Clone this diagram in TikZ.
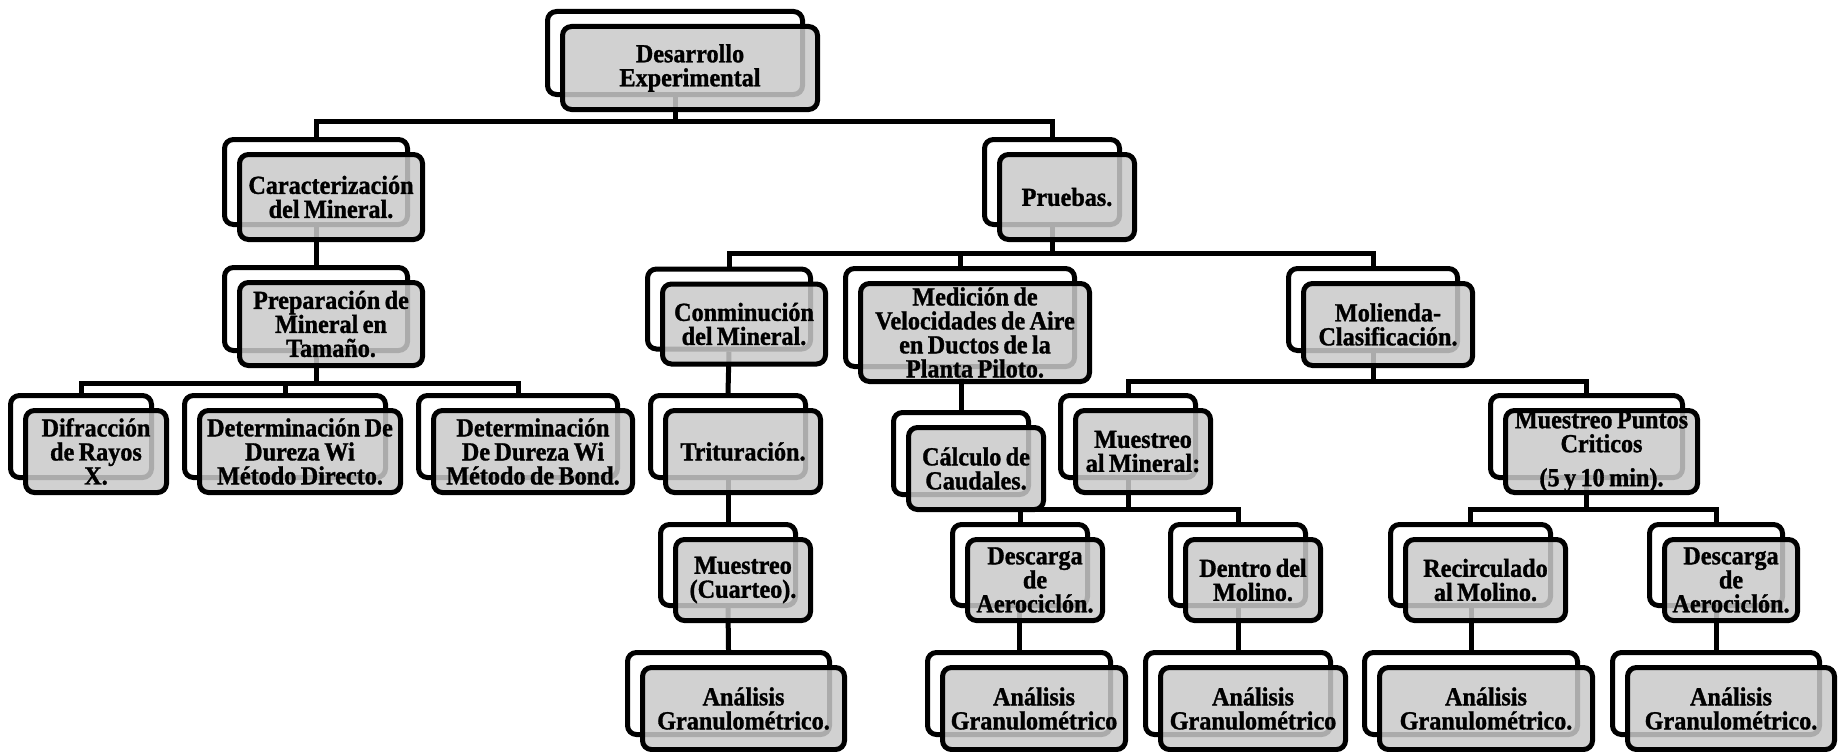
\documentclass[tikz,border=0pt]{standalone}
\usepackage{fontspec}
\setmainfont{Liberation Serif}[FakeStretch=0.93,BoldFeatures={FakeBold=1.2}]
\usetikzlibrary{calc}
\pgfdeclarelayer{bg}
\pgfsetlayers{bg,main}
\definecolor{boxgray}{gray}{0.79}
\newcommand\boxfont{\fontsize{26}{24}\selectfont\bfseries\spaceskip=0.17em plus 0.05em minus 0.05em\relax}
\tikzset{
  backbox/.style={draw=black, line width=5pt, fill=white, rounded corners=9pt, inner sep=0pt},
  frontbox/.style={draw=black, line width=5pt, fill=boxgray, fill opacity=0.85, text opacity=1, draw opacity=1,
     rounded corners=9pt, inner xsep=0pt, inner ysep=0pt, align=center, font=\boxfont},
  conn/.style={draw=black, line width=5pt, line join=miter},
}
\newcommand\dbox[6]{%
  \node[backbox, minimum width=#4, minimum height=#5] (#1B) at (#2,#3) {};
  \node[frontbox, minimum width=#4, minimum height=#5] (#1) at (#2+15,#3+15) {#6};
}
\begin{document}
\begin{tikzpicture}[x=1pt,y=-1pt]
\useasboundingbox (0,0) rectangle (1847,752);
\dbox{des}{675}{53}{255}{83}{Desarrollo\\Experimental}
\dbox{car}{316}{182}{183}{85}{Caracterización\\del Mineral.}
\dbox{pru}{1052}{182}{135}{85}{Pruebas.}
\dbox{pre}{316}{309}{183}{83}{Preparación de\\Mineral en\\Tamaño.}
\dbox{con}{729}{309}{163}{80}{Conminución\\del Mineral.}
\dbox{med}{960}{317.5}{229}{98}{Medición de\\Velocidades de Aire\\en Ductos de la\\Planta Piloto.}
\dbox{mol}{1373}{309.5}{169}{82}{Molienda-\\Clasificación.}
\dbox{dif}{81}{436.5}{141}{82}{Difracción\\de Rayos\\X.}
\dbox{ddi}{285}{436.5}{201}{82}{Determinación De\\Dureza Wi\\Método Directo.}
\dbox{dbo}{518}{436.5}{199}{82}{Determinación\\De Dureza Wi\\Método de Bond.}
\dbox{tri}{728}{436.5}{155}{82}{Trituración.}
\dbox{cal}{961}{453.5}{135}{82}{Cálculo de\\Caudales.}
\dbox{mmi}{1128}{436.5}{135}{82}{Muestreo\\al Mineral:}
\dbox{mpu}{1586.5}{436.5}{192}{82}{Muestreo Puntos\\Criticos\\[10pt](5 y 10 min).}
\dbox{mue}{728}{565}{135}{81}{Muestreo\\(Cuarteo).}
\dbox{dsa}{1020}{565}{135}{81}{Descarga\\de\\Aerociclón.}
\dbox{den}{1238}{565}{135}{81}{Dentro del\\Molino.}
\dbox{rec}{1470.5}{565}{160}{81}{Recirculado\\al Molino.}
\dbox{dsb}{1716}{565}{133}{81}{Descarga\\de\\Aerociclón.}
\dbox{ana}{728.5}{693.5}{202}{82}{Análisis\\Granulométrico.}
\dbox{anb}{1019}{693.5}{183}{82}{Análisis\\Granulométrico}
\dbox{anc}{1238}{693.5}{185}{82}{Análisis\\Granulométrico}
\dbox{and}{1471}{693.5}{213}{82}{Análisis\\Granulométrico.}
\dbox{ane}{1716}{693.5}{207}{82}{Análisis\\Granulométrico.}
\coordinate (b0) at (0,121);
\coordinate (b1) at (0,253);
\coordinate (bL) at (0,383);
\coordinate (b2) at (0,381);
\coordinate (b3) at (0,509);
\begin{pgfonlayer}{bg}
\draw[conn] (desB.south) -- (desB.south |- b0) -| (carB.north);
\draw[conn] (desB.south) -- (desB.south |- b0) -| (pruB.north);
\draw[conn] (carB.south) -- (preB.north);
\draw[conn] (preB.south) -- (preB.south |- bL) -| (difB.north);
\draw[conn] (preB.south) -- (preB.south |- bL) -| (ddiB.north);
\draw[conn] (preB.south) -- (preB.south |- bL) -| (dboB.north);
\draw[conn] (pruB.south) -- (pruB.south |- b1) -| (conB.north);
\draw[conn] (pruB.south) -- (pruB.south |- b1) -| (medB.north);
\draw[conn] (pruB.south) -- (pruB.south |- b1) -| (molB.north);
\draw[conn] (conB.south) -- (triB.north);
\draw[conn] (triB.south) -- (mueB.north);
\draw[conn] (mueB.south) -- (anaB.north);
\draw[conn] (calB.north) -- (calB.north |- medB.south);
\draw[conn] (molB.south) -- (molB.south |- b2) -| (mmiB.north);
\draw[conn] (molB.south) -- (molB.south |- b2) -| (mpuB.north);
\draw[conn] (mmiB.south) -- (mmiB.south |- b3) -| (dsaB.north);
\draw[conn] (mmiB.south) -- (mmiB.south |- b3) -| (denB.north);
\draw[conn] (mpuB.south) -- (mpuB.south |- b3) -| (recB.north);
\draw[conn] (mpuB.south) -- (mpuB.south |- b3) -| (dsbB.north);
\draw[conn] (anbB.north) -- (anbB.north |- dsaB.south);
\draw[conn] (ancB.north) -- (ancB.north |- denB.south);
\draw[conn] (andB.north) -- (andB.north |- recB.south);
\draw[conn] (aneB.north) -- (aneB.north |- dsbB.south);
\end{pgfonlayer}
\end{tikzpicture}
\end{document}
